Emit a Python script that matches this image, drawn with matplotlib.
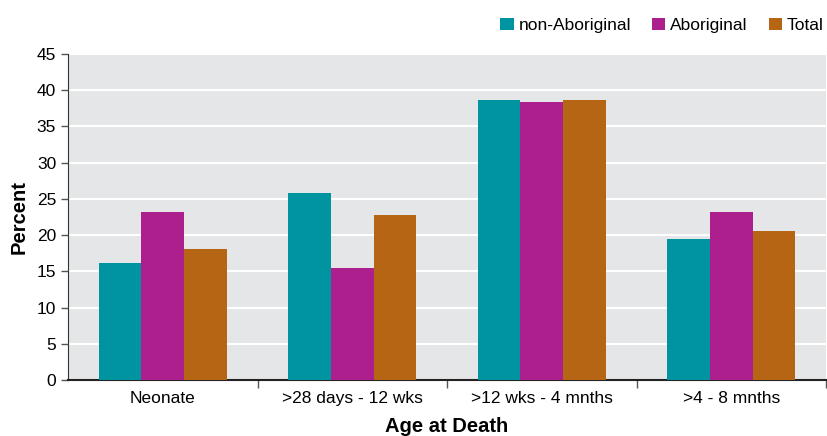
import matplotlib.pyplot as plt
import numpy as np

plt.rcParams['font.family'] = ['Liberation Sans', 'DejaVu Sans']

# Age at death groups and percentage by group
categories = ['Neonate', '>28 days - 12 wks', '>12 wks - 4 mnths', '>4 - 8 mnths']
non_aboriginal = [16.2, 25.8, 38.7, 19.5]
aboriginal = [23.2, 15.5, 38.4, 23.2]
total = [18.1, 22.8, 38.7, 20.6]

series = [('non-Aboriginal', non_aboriginal, '#0093a0'),
          ('Aboriginal', aboriginal, '#ac1f8d'),
          ('Total', total, '#b66515')]

fig = plt.figure(figsize=(8.27, 4.36), dpi=100)
ax = fig.add_axes([68/827, 1 - 380/436, 758/827, 326/436])
ax.set_facecolor('#e5e6e8')

x = np.arange(len(categories))
w = 0.225
for i, (name, vals, col) in enumerate(series):
    ax.bar(x + (i - 1) * w, vals, w, color=col, label=name, zorder=3)

ax.set_xlim(-0.5, len(categories) - 0.5)
ax.set_ylim(0, 45)
ax.set_yticks(range(0, 46, 5))
ax.yaxis.grid(True, color='white', linewidth=1.5, zorder=1)

ax.set_xticks(x)
ax.set_xticklabels(categories, fontsize=12.5)
ax.tick_params(axis='x', length=0, pad=8)
ax.set_xticks(np.arange(0.5, len(categories), 1), minor=True)
ax.tick_params(axis='x', which='minor', length=6, width=1, color='#555555')
ax.tick_params(axis='y', labelsize=12.5, length=5, width=1, color='#555555')

for s in ['top', 'right']:
    ax.spines[s].set_visible(False)
ax.spines['left'].set_color('#333333')
ax.spines['bottom'].set_color('#222222')
ax.spines['bottom'].set_linewidth(1.5)

ax.set_xlabel('Age at Death', fontsize=14.5, fontweight='bold', labelpad=8)
ax.set_ylabel('Percent', fontsize=14.5, fontweight='bold', labelpad=6)

ax.legend(loc='center right', bbox_to_anchor=(0.997, 1.088), ncol=3, frameon=False,
          fontsize=12.5, handlelength=0.75, handleheight=0.75, handletextpad=0.3,
          columnspacing=1.2, borderaxespad=0, borderpad=0)

fig.savefig('out.png', dpi=100)
